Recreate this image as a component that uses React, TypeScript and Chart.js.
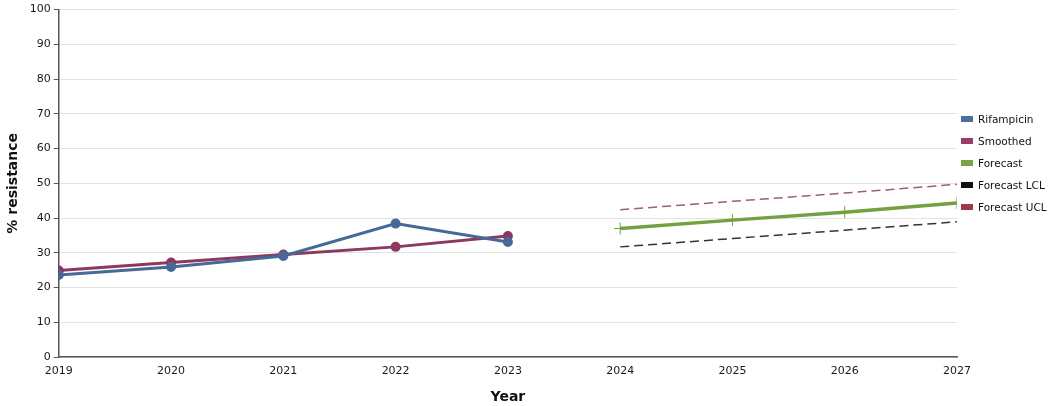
import React, { useEffect, useRef } from 'react';
import { Chart, registerables } from 'chart.js';

Chart.register(...registerables);

const years = [2019, 2020, 2021, 2022, 2023];
const forecastYears = [2024, 2025, 2026, 2027];
const rifampicin = [23.6, 25.9, 29.1, 38.4, 33.1];
const smoothed = [24.9, 27.2, 29.5, 31.7, 34.8];
const forecast = [37.0, 39.4, 41.7, 44.3];
const forecastLcl = [31.7, 34.1, 36.5, 38.9];
const forecastUcl = [42.4, 44.8, 47.2, 49.7];

const legendItems = [
  { label: 'Rifampicin', color: '#4a70a0' },
  { label: 'Smoothed', color: '#9a3d6b' },
  { label: 'Forecast', color: '#79a344' },
  { label: 'Forecast LCL', color: '#111111' },
  { label: 'Forecast UCL', color: '#a3384a' },
];

const pts = (xs: number[], ys: number[]) => xs.map((x, i) => ({ x, y: ys[i] }));

const FAMILY = '"DejaVu Sans", Verdana, sans-serif';

export default function App() {
  const canvasRef = useRef<HTMLCanvasElement | null>(null);
  const chartRef = useRef<Chart | null>(null);

  useEffect(() => {
    document.body.style.margin = '0';
    if (!canvasRef.current) return;
    if (chartRef.current) chartRef.current.destroy();

    const font = { family: FAMILY, size: 11 };

    chartRef.current = new Chart(canvasRef.current, {
      type: 'line',
      data: {
        datasets: [
          {
            label: 'Rifampicin',
            data: pts(years, rifampicin),
            borderColor: '#456a98',
            backgroundColor: '#456a98',
            borderWidth: 3,
            pointRadius: 3.5,
          },
          {
            label: 'Smoothed',
            data: pts(years, smoothed),
            borderColor: '#8c3860',
            backgroundColor: '#8c3860',
            borderWidth: 3,
            pointRadius: 3.5,
          },
          {
            label: 'Forecast',
            data: pts(forecastYears, forecast),
            borderColor: '#75a040',
            backgroundColor: '#75a040',
            borderWidth: 3.5,
            pointStyle: 'cross',
            pointRadius: 6,
            pointBorderWidth: 1,
          },
          {
            label: 'Forecast LCL',
            data: pts(forecastYears, forecastLcl),
            borderColor: '#333333',
            borderWidth: 1.5,
            borderDash: [9, 5],
            pointRadius: 0,
          },
          {
            label: 'Forecast UCL',
            data: pts(forecastYears, forecastUcl),
            borderColor: '#9c6070',
            borderWidth: 1.5,
            borderDash: [9, 5],
            pointRadius: 0,
          },
        ],
      },
      options: {
        animation: false,
        responsive: true,
        maintainAspectRatio: false,
        layout: { padding: { left: 4, top: 6, right: 92, bottom: 0 } },
        plugins: {
          tooltip: { enabled: false },
          legend: { display: false },
        },
        scales: {
          x: {
            type: 'linear',
            min: 2019,
            max: 2027,
            offset: false,
            grid: { display: false, drawTicks: true, tickLength: 5, tickColor: '#555' },
            border: { color: '#555', width: 1.5 },
            ticks: {
              stepSize: 1,
              color: '#1a1a1a',
              font,
              padding: 3,
              callback: (v) => String(v),
              maxRotation: 0,
            },
            title: {
              display: true,
              text: 'Year',
              color: '#111',
              font: { family: FAMILY, size: 14, weight: 'bold' },
              padding: { top: 8, bottom: 0 },
            },
          },
          y: {
            min: 0,
            max: 100,
            grid: { color: '#e2e2e2', tickLength: 5, tickColor: '#555' },
            border: { color: '#555', width: 1.5 },
            ticks: { stepSize: 10, color: '#1a1a1a', font, padding: 3 },
            title: {
              display: true,
              text: '% resistance',
              color: '#111',
              font: { family: FAMILY, size: 14, weight: 'bold' },
              padding: { top: 1, bottom: 5 },
            },
          },
        },
      },
    });

    return () => {
      if (chartRef.current) {
        chartRef.current.destroy();
        chartRef.current = null;
      }
    };
  }, []);

  return (
    <div style={{ width: '1049px', height: '406px', position: 'relative', background: '#fff' }}>
      <canvas ref={canvasRef} />
      <div style={{ position: 'absolute', left: '961px', top: '108px', fontFamily: FAMILY, fontSize: '10.5px', color: '#111' }}>
        {legendItems.map((item) => (
          <div key={item.label} style={{ display: 'flex', alignItems: 'center', height: '22px' }}>
            <span style={{ width: '12px', height: '6px', background: item.color, marginRight: '5px', display: 'inline-block' }} />
            {item.label}
          </div>
        ))}
      </div>
    </div>
  );
}
